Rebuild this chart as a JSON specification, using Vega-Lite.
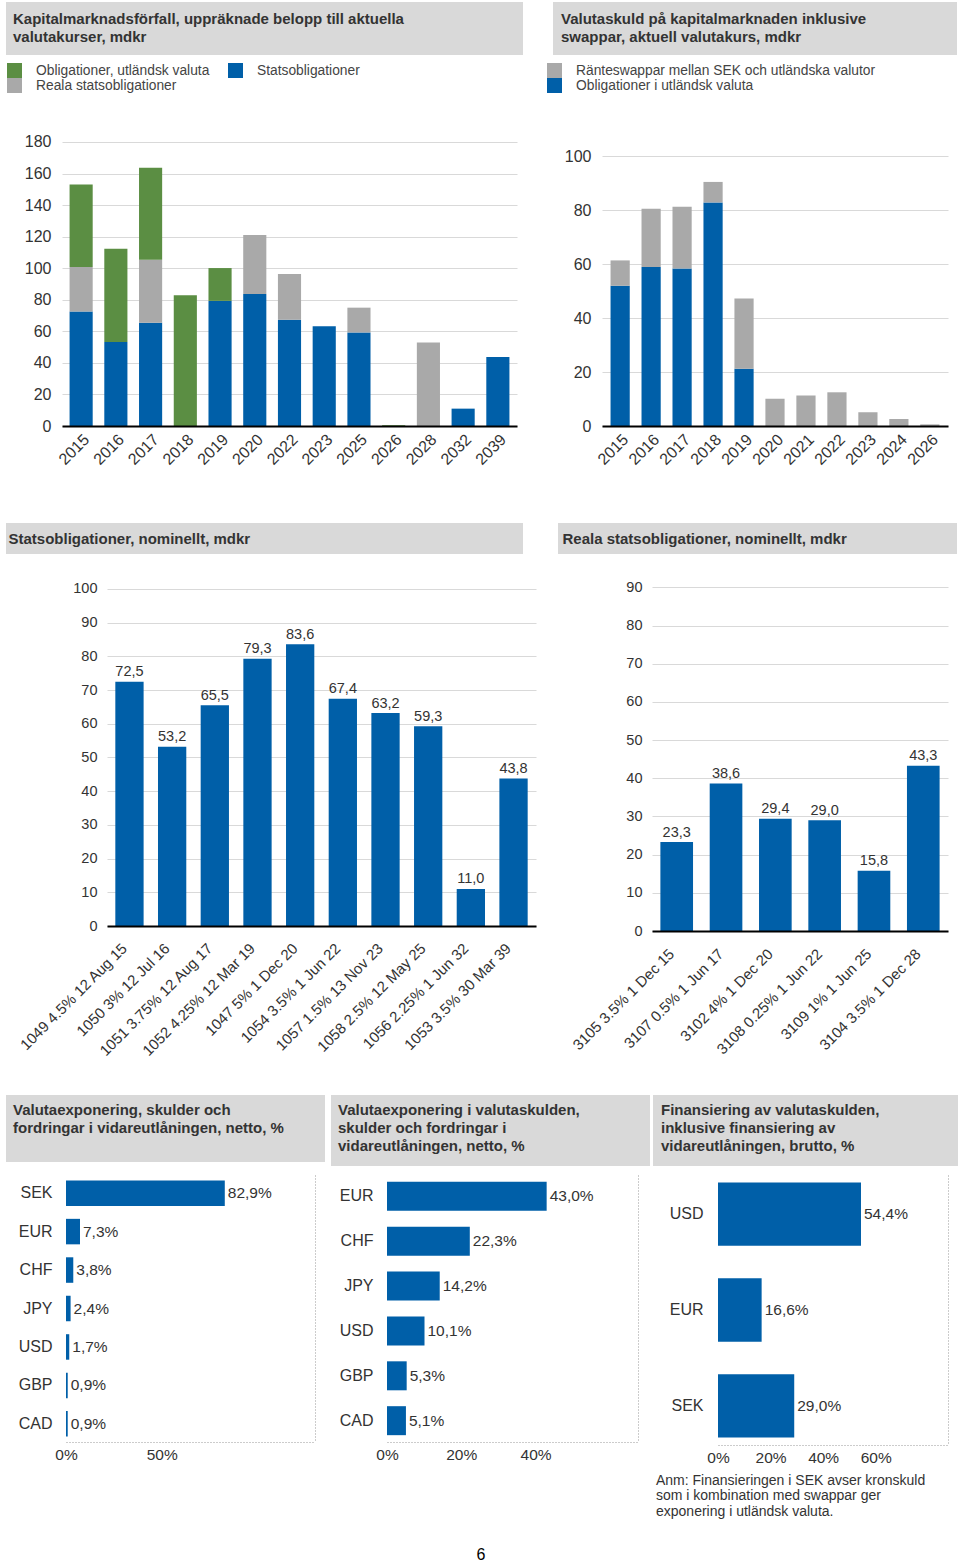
{
  "$schema": "https://vega.github.io/schema/vega-lite/v6.json",
  "padding": {"top": 2, "left": 0, "right": 0, "bottom": 0},
  "bounds": "full",
  "spacing": 0,
  "resolve": {"scale": {"color": "independent"}, "legend": {"color": "independent"}},
  "config": {
    "font": "Liberation Sans",
    "view": {"stroke": null},
    "locale": {"number": {"decimal": ",", "thousands": " ", "grouping": [3], "currency": ["", " kr"]}},
    "axis": {"labelColor": "#333333", "ticks": false, "domain": false, "labelFont": "Liberation Sans"},
    "legend": {"labelFont": "Liberation Sans"},
    "text": {"font": "Liberation Sans"}
  },
  "datasets": {
    "kap": [
      {"ar": "2015", "serie": "Statsobligationer", "v": 72.5},
      {"ar": "2015", "serie": "Reala statsobligationer", "v": 28.3},
      {"ar": "2015", "serie": "Obligationer, utländsk valuta", "v": 52.2},
      {"ar": "2016", "serie": "Statsobligationer", "v": 53.2},
      {"ar": "2016", "serie": "Obligationer, utländsk valuta", "v": 59.2},
      {"ar": "2017", "serie": "Statsobligationer", "v": 65.5},
      {"ar": "2017", "serie": "Reala statsobligationer", "v": 39.9},
      {"ar": "2017", "serie": "Obligationer, utländsk valuta", "v": 58.3},
      {"ar": "2018", "serie": "Obligationer, utländsk valuta", "v": 82.8},
      {"ar": "2019", "serie": "Statsobligationer", "v": 79.3},
      {"ar": "2019", "serie": "Obligationer, utländsk valuta", "v": 20.8},
      {"ar": "2020", "serie": "Statsobligationer", "v": 83.6},
      {"ar": "2020", "serie": "Reala statsobligationer", "v": 37.5},
      {"ar": "2022", "serie": "Statsobligationer", "v": 67.4},
      {"ar": "2022", "serie": "Reala statsobligationer", "v": 28.9},
      {"ar": "2023", "serie": "Statsobligationer", "v": 63.2},
      {"ar": "2025", "serie": "Statsobligationer", "v": 59.3},
      {"ar": "2025", "serie": "Reala statsobligationer", "v": 15.7},
      {"ar": "2026", "serie": "Obligationer, utländsk valuta", "v": 0.5},
      {"ar": "2028", "serie": "Reala statsobligationer", "v": 53.0},
      {"ar": "2032", "serie": "Statsobligationer", "v": 11.0},
      {"ar": "2039", "serie": "Statsobligationer", "v": 43.8}
    ],
    "swap": [
      {"ar": "2015", "serie": "Obligationer i utländsk valuta", "v": 52.0},
      {"ar": "2015", "serie": "Ränteswappar mellan SEK och utländska valutor", "v": 9.4},
      {"ar": "2016", "serie": "Obligationer i utländsk valuta", "v": 59.0},
      {"ar": "2016", "serie": "Ränteswappar mellan SEK och utländska valutor", "v": 21.6},
      {"ar": "2017", "serie": "Obligationer i utländsk valuta", "v": 58.4},
      {"ar": "2017", "serie": "Ränteswappar mellan SEK och utländska valutor", "v": 22.9},
      {"ar": "2018", "serie": "Obligationer i utländsk valuta", "v": 82.9},
      {"ar": "2018", "serie": "Ränteswappar mellan SEK och utländska valutor", "v": 7.6},
      {"ar": "2019", "serie": "Obligationer i utländsk valuta", "v": 21.2},
      {"ar": "2019", "serie": "Ränteswappar mellan SEK och utländska valutor", "v": 26.1},
      {"ar": "2020", "serie": "Ränteswappar mellan SEK och utländska valutor", "v": 10.1},
      {"ar": "2021", "serie": "Ränteswappar mellan SEK och utländska valutor", "v": 11.3},
      {"ar": "2022", "serie": "Ränteswappar mellan SEK och utländska valutor", "v": 12.5},
      {"ar": "2023", "serie": "Ränteswappar mellan SEK och utländska valutor", "v": 5.1},
      {"ar": "2024", "serie": "Ränteswappar mellan SEK och utländska valutor", "v": 2.6},
      {"ar": "2026", "serie": "Ränteswappar mellan SEK och utländska valutor", "v": 0.6}
    ],
    "nom": [
      {"lan": "1049 4.5% 12 Aug 15", "v": 72.5},
      {"lan": "1050 3% 12 Jul 16", "v": 53.2},
      {"lan": "1051 3.75% 12 Aug 17", "v": 65.5},
      {"lan": "1052 4.25% 12 Mar 19", "v": 79.3},
      {"lan": "1047 5% 1 Dec 20", "v": 83.6},
      {"lan": "1054  3.5% 1 Jun 22", "v": 67.4},
      {"lan": "1057 1.5% 13 Nov 23", "v": 63.2},
      {"lan": "1058 2.5% 12 May 25", "v": 59.3},
      {"lan": "1056 2.25% 1 Jun 32", "v": 11.0},
      {"lan": "1053 3.5% 30 Mar 39", "v": 43.8}
    ],
    "real": [
      {"lan": "3105 3.5% 1 Dec 15", "v": 23.3},
      {"lan": "3107 0.5% 1 Jun 17", "v": 38.6},
      {"lan": "3102 4% 1 Dec 20", "v": 29.4},
      {"lan": "3108 0.25% 1 Jun 22", "v": 29.0},
      {"lan": "3109 1% 1 Jun 25", "v": 15.8},
      {"lan": "3104 3.5% 1 Dec 28", "v": 43.3}
    ],
    "exp1": [
      {"valuta": "SEK", "andel": 0.829},
      {"valuta": "EUR", "andel": 0.073},
      {"valuta": "CHF", "andel": 0.038},
      {"valuta": "JPY", "andel": 0.024},
      {"valuta": "USD", "andel": 0.017},
      {"valuta": "GBP", "andel": 0.009},
      {"valuta": "CAD", "andel": 0.009}
    ],
    "exp2": [
      {"valuta": "EUR", "andel": 0.430},
      {"valuta": "CHF", "andel": 0.223},
      {"valuta": "JPY", "andel": 0.142},
      {"valuta": "USD", "andel": 0.101},
      {"valuta": "GBP", "andel": 0.053},
      {"valuta": "CAD", "andel": 0.051}
    ],
    "fin": [
      {"valuta": "USD", "andel": 0.544},
      {"valuta": "EUR", "andel": 0.166},
      {"valuta": "SEK", "andel": 0.290}
    ]
  },
  "vconcat": [
    {
      "spacing": 0, "bounds": "flush",
      "hconcat": [
        {"width": 6, "height": 61, "data": {"values": []}, "mark": {"type": "point", "opacity": 0}},
        {"width": 517, "height": 53, "data": {"values": []}, "mark": {"type": "point", "opacity": 0},
         "view": {"fill": "#d9d9d9", "stroke": null},
         "title": {"text": ["Kapitalmarknadsförfall, uppräknade belopp till aktuella", "valutakurser, mdkr"], "orient": "bottom", "anchor": "start", "frame": "group", "offset": -43, "dx": 7, "fontSize": 15, "fontWeight": "bold", "lineHeight": 17.5, "color": "#333333"}},
        {"width": 30, "height": 1, "data": {"values": []}, "mark": {"type": "point", "opacity": 0}},
        {"width": 404, "height": 53, "data": {"values": []}, "mark": {"type": "point", "opacity": 0},
         "view": {"fill": "#d9d9d9", "stroke": null},
         "title": {"text": ["Valutaskuld på kapitalmarknaden inklusive", "swappar, aktuell valutakurs, mdkr"], "orient": "bottom", "anchor": "start", "frame": "group", "offset": -43, "dx": 8, "fontSize": 15, "fontWeight": "bold", "lineHeight": 17.5, "color": "#333333"}}
      ]
    },
    {
      "spacing": 0, "bounds": "flush",
      "resolve": {"scale": {"color": "independent"}, "legend": {"color": "independent"}},
      "hconcat": [
        {"width": 62, "height": 460, "data": {"values": []}, "mark": {"type": "point", "opacity": 0}},
        {
          "width": 455, "height": 363,
          "data": {"name": "kap"},
          "mark": {"type": "bar"},
          "encoding": {
            "x": {"field": "ar", "type": "ordinal", "title": null,
              "scale": {"paddingInner": 0.334, "paddingOuter": 0.218},
              "axis": {"labelAngle": -45, "labelFontSize": 16, "labelPadding": 5, "domain": true, "domainColor": "#000000", "domainWidth": 2, "grid": false, "zindex": 1}},
            "y": {"field": "v", "type": "quantitative", "title": null, "stack": "zero",
              "scale": {"domain": [0, 230.07], "nice": false},
              "axis": {"values": [0, 20, 40, 60, 80, 100, 120, 140, 160, 180], "labelFontSize": 16, "labelPadding": 11, "grid": true, "gridColor": "#d9d9d9"}},
            "color": {"field": "serie", "type": "nominal",
              "scale": {"domain": ["Obligationer, utländsk valuta", "Reala statsobligationer", "Statsobligationer"], "range": ["#5b8e43", "#a9a9a9", "#005fa8"]},
              "legend": {"orient": "none", "legendX": -55, "legendY": 0, "direction": "vertical", "columns": 2, "title": null, "symbolType": "square", "symbolSize": 225, "symbolStrokeWidth": 0, "symbolOpacity": 1, "labelFontSize": 13.8, "labelColor": "#444444", "labelOffset": 14, "labelLimit": 400, "rowPadding": 0, "columnPadding": 18, "padding": 0}},
            "order": {"field": "serie", "sort": "descending"}
          }
        },
        {"width": 85, "height": 1, "data": {"values": []}, "mark": {"type": "point", "opacity": 0}},
        {
          "width": 346, "height": 363,
          "data": {"name": "swap"},
          "mark": {"type": "bar"},
          "encoding": {
            "x": {"field": "ar", "type": "ordinal", "title": null,
              "scale": {"paddingInner": 0.38, "paddingOuter": 0.276},
              "axis": {"labelAngle": -45, "labelFontSize": 16, "labelPadding": 5, "domain": true, "domainColor": "#000000", "domainWidth": 2, "grid": false, "zindex": 1}},
            "y": {"field": "v", "type": "quantitative", "title": null, "stack": "zero",
              "scale": {"domain": [0, 134.6], "nice": false},
              "axis": {"values": [0, 20, 40, 60, 80, 100], "labelFontSize": 16, "labelPadding": 11, "grid": true, "gridColor": "#d9d9d9"}},
            "color": {"field": "serie", "type": "nominal",
              "scale": {"domain": ["Ränteswappar mellan SEK och utländska valutor", "Obligationer i utländsk valuta"], "range": ["#a9a9a9", "#005fa8"]},
              "legend": {"orient": "none", "legendX": -55, "legendY": 0, "direction": "vertical", "columns": 1, "title": null, "symbolType": "square", "symbolSize": 225, "symbolStrokeWidth": 0, "symbolOpacity": 1, "labelFontSize": 13.8, "labelColor": "#444444", "labelOffset": 14, "labelLimit": 400, "rowPadding": 0, "padding": 0}},
            "order": {"field": "serie", "sort": "ascending"}
          }
        }
      ]
    },
    {
      "spacing": 0, "bounds": "flush",
      "hconcat": [
        {"width": 6, "height": 55, "data": {"values": []}, "mark": {"type": "point", "opacity": 0}},
        {"width": 517, "height": 31, "data": {"values": []}, "mark": {"type": "point", "opacity": 0},
         "view": {"fill": "#d9d9d9", "stroke": null},
         "title": {"text": "Statsobligationer, nominellt, mdkr", "orient": "bottom", "anchor": "start", "frame": "group", "offset": -22.5, "dx": 2.5, "fontSize": 15, "fontWeight": "bold", "color": "#333333"}},
        {"width": 35, "height": 1, "data": {"values": []}, "mark": {"type": "point", "opacity": 0}},
        {"width": 399, "height": 31, "data": {"values": []}, "mark": {"type": "point", "opacity": 0},
         "view": {"fill": "#d9d9d9", "stroke": null},
         "title": {"text": "Reala statsobligationer, nominellt, mdkr", "orient": "bottom", "anchor": "start", "frame": "group", "offset": -22.5, "dx": 4.5, "fontSize": 15, "fontWeight": "bold", "color": "#333333"}}
      ]
    },
    {
      "spacing": 0, "bounds": "flush",
      "hconcat": [
        {"width": 107, "height": 517, "data": {"values": []}, "mark": {"type": "point", "opacity": 0}},
        {
          "width": 429, "height": 348,
          "data": {"name": "nom"},
          "encoding": {
            "x": {"field": "lan", "type": "nominal", "sort": null, "title": null,
              "scale": {"paddingInner": 0.337, "paddingOuter": 0.195},
              "axis": {"labelAngle": -45, "labelFontSize": 15, "labelPadding": 14.5, "labelOffset": -10, "labelLimit": 300, "domain": true, "domainColor": "#000000", "domainWidth": 2, "grid": false, "zindex": 1}},
            "y": {"field": "v", "type": "quantitative", "title": null,
              "scale": {"domain": [0, 103.26], "nice": false},
              "axis": {"values": [0, 10, 20, 30, 40, 50, 60, 70, 80, 90, 100], "labelFontSize": 14.5, "labelPadding": 10, "grid": true, "gridColor": "#d9d9d9"}}
          },
          "layer": [
            {"mark": {"type": "bar", "color": "#005fa8"}},
            {"mark": {"type": "text", "baseline": "alphabetic", "dy": -5.5, "fontSize": 14.5, "color": "#333333"},
             "encoding": {"text": {"field": "v", "type": "quantitative", "format": ".1f"}}}
          ]
        },
        {"width": 116, "height": 1, "data": {"values": []}, "mark": {"type": "point", "opacity": 0}},
        {
          "width": 296, "height": 353,
          "data": {"name": "real"},
          "encoding": {
            "x": {"field": "lan", "type": "nominal", "sort": null, "title": null,
              "scale": {"paddingInner": 0.338, "paddingOuter": 0.17},
              "axis": {"labelAngle": -45, "labelFontSize": 15, "labelPadding": 15, "labelOffset": -10, "labelLimit": 300, "domain": true, "domainColor": "#000000", "domainWidth": 2, "grid": false, "zindex": 1}},
            "y": {"field": "v", "type": "quantitative", "title": null,
              "scale": {"domain": [0, 92.44], "nice": false},
              "axis": {"values": [0, 10, 20, 30, 40, 50, 60, 70, 80, 90], "labelFontSize": 14.5, "labelPadding": 10, "grid": true, "gridColor": "#d9d9d9"}}
          },
          "layer": [
            {"mark": {"type": "bar", "color": "#005fa8"}},
            {"mark": {"type": "text", "baseline": "alphabetic", "dy": -5.5, "fontSize": 14.5, "color": "#333333"},
             "encoding": {"text": {"field": "v", "type": "quantitative", "format": ".1f"}}}
          ]
        }
      ]
    },
    {
      "spacing": 0, "bounds": "flush",
      "hconcat": [
        {"width": 6, "height": 80, "data": {"values": []}, "mark": {"type": "point", "opacity": 0}},
        {"width": 319, "height": 67, "data": {"values": []}, "mark": {"type": "point", "opacity": 0},
         "view": {"fill": "#d9d9d9", "stroke": null},
         "title": {"text": ["Valutaexponering, skulder och", "fordringar i vidareutlåningen, netto, %"], "orient": "bottom", "anchor": "start", "frame": "group", "offset": -59, "dx": 7, "fontSize": 15, "fontWeight": "bold", "lineHeight": 18, "color": "#333333"}},
        {"width": 6, "height": 1, "data": {"values": []}, "mark": {"type": "point", "opacity": 0}},
        {"width": 319, "height": 71, "data": {"values": []}, "mark": {"type": "point", "opacity": 0},
         "view": {"fill": "#d9d9d9", "stroke": null},
         "title": {"text": ["Valutaexponering i valutaskulden,", "skulder och fordringar i", "vidareutlåningen, netto, %"], "orient": "bottom", "anchor": "start", "frame": "group", "offset": -63, "dx": 7, "fontSize": 15, "fontWeight": "bold", "lineHeight": 18, "color": "#333333"}},
        {"width": 3, "height": 1, "data": {"values": []}, "mark": {"type": "point", "opacity": 0}},
        {"width": 305, "height": 71, "data": {"values": []}, "mark": {"type": "point", "opacity": 0},
         "view": {"fill": "#d9d9d9", "stroke": null},
         "title": {"text": ["Finansiering av valutaskulden,", "inklusive finansiering av", "vidareutlåningen, brutto, %"], "orient": "bottom", "anchor": "start", "frame": "group", "offset": -63, "dx": 8, "fontSize": 15, "fontWeight": "bold", "lineHeight": 18, "color": "#333333"}}
      ]
    },
    {
      "spacing": 0, "bounds": "flush",
      "hconcat": [
        {"width": 66, "height": 369, "data": {"values": []}, "mark": {"type": "point", "opacity": 0}},
        {
          "width": 249, "height": 267,
          "data": {"name": "exp1"},
          "encoding": {
            "x": {"field": "andel", "type": "quantitative", "title": null,
              "scale": {"domain": [0, 1.3], "nice": false},
              "axis": {"values": [0, 0.5], "format": ".0%", "labelFlush": false, "labelFontSize": 15.5, "labelPadding": 5, "domain": true, "domainColor": "#999999", "domainDash": [1, 2], "grid": false}}
          },
          "layer": [
            {"mark": {"type": "bar", "color": "#005fa8"},
             "encoding": {"y": {"field": "valuta", "type": "nominal", "sort": null, "title": null,
               "scale": {"paddingInner": 0.337, "paddingOuter": 0.14},
               "axis": {"orient": "left", "labelFontSize": 16, "labelPadding": 14, "grid": false}}}},
            {"mark": {"type": "text", "align": "left", "baseline": "middle", "dx": 3, "fontSize": 15.5, "color": "#333333"},
             "encoding": {
               "y": {"field": "valuta", "type": "nominal", "sort": null, "title": null,
                 "scale": {"paddingInner": 0.337, "paddingOuter": 0.14},
                 "axis": {"orient": "right", "labels": false, "grid": false, "domain": true, "domainColor": "#999999", "domainDash": [1, 2]}},
               "text": {"field": "andel", "type": "quantitative", "format": ".1%"}}}
          ],
          "resolve": {"axis": {"y": "independent"}}
        },
        {"width": 72, "height": 1, "data": {"values": []}, "mark": {"type": "point", "opacity": 0}},
        {
          "width": 251, "height": 267,
          "data": {"name": "exp2"},
          "encoding": {
            "x": {"field": "andel", "type": "quantitative", "title": null,
              "scale": {"domain": [0, 0.676], "nice": false},
              "axis": {"values": [0, 0.2, 0.4], "format": ".0%", "labelFlush": false, "labelFontSize": 15.5, "labelPadding": 5, "domain": true, "domainColor": "#999999", "domainDash": [1, 2], "grid": false}}
          },
          "layer": [
            {"mark": {"type": "bar", "color": "#005fa8"},
             "encoding": {"y": {"field": "valuta", "type": "nominal", "sort": null, "title": null,
               "scale": {"paddingInner": 0.354, "paddingOuter": 0.152},
               "axis": {"orient": "left", "labelFontSize": 16, "labelPadding": 14, "grid": false}}}},
            {"mark": {"type": "text", "align": "left", "baseline": "middle", "dx": 3, "fontSize": 15.5, "color": "#333333"},
             "encoding": {
               "y": {"field": "valuta", "type": "nominal", "sort": null, "title": null,
                 "scale": {"paddingInner": 0.354, "paddingOuter": 0.152},
                 "axis": {"orient": "right", "labels": false, "grid": false, "domain": true, "domainColor": "#999999", "domainDash": [1, 2]}},
               "text": {"field": "andel", "type": "quantitative", "format": ".1%"}}}
          ],
          "resolve": {"axis": {"y": "independent"}}
        },
        {"width": 80, "height": 1, "data": {"values": []}, "mark": {"type": "point", "opacity": 0}},
        {
          "width": 230, "height": 270,
          "data": {"name": "fin"},
          "title": {"text": ["Anm: Finansieringen i SEK avser kronskuld", "som i kombination med swappar ger", "exponering i utländsk valuta."], "orient": "bottom", "anchor": "start", "frame": "group", "dx": -62, "offset": 8, "fontSize": 14, "fontWeight": "normal", "lineHeight": 15.5, "color": "#333333"},
          "encoding": {
            "x": {"field": "andel", "type": "quantitative", "title": null,
              "scale": {"domain": [0, 0.875], "nice": false},
              "axis": {"values": [0, 0.2, 0.4, 0.6], "format": ".0%", "labelFlush": false, "labelFontSize": 15.5, "labelPadding": 5, "domain": true, "domainColor": "#999999", "domainDash": [1, 2], "grid": false}}
          },
          "layer": [
            {"mark": {"type": "bar", "color": "#005fa8"},
             "encoding": {"y": {"field": "valuta", "type": "nominal", "sort": null, "title": null,
               "scale": {"paddingInner": 0.339, "paddingOuter": 0.0785},
               "axis": {"orient": "left", "labelFontSize": 16, "labelPadding": 15, "grid": false}}}},
            {"mark": {"type": "text", "align": "left", "baseline": "middle", "dx": 3, "fontSize": 15.5, "color": "#333333"},
             "encoding": {
               "y": {"field": "valuta", "type": "nominal", "sort": null, "title": null,
                 "scale": {"paddingInner": 0.339, "paddingOuter": 0.0785},
                 "axis": {"orient": "right", "labels": false, "grid": false, "domain": true, "domainColor": "#999999", "domainDash": [1, 2]}},
               "text": {"field": "andel", "type": "quantitative", "format": ".1%"}}}
          ],
          "resolve": {"axis": {"y": "independent"}}
        }
      ]
    },
    {
      "spacing": 0, "bounds": "flush",
      "hconcat": [
        {"width": 431, "height": 1, "data": {"values": []}, "mark": {"type": "point", "opacity": 0}},
        {"width": 100, "height": 1, "data": {"values": []}, "mark": {"type": "point", "opacity": 0},
         "title": {"text": "6", "orient": "bottom", "anchor": "middle", "frame": "group", "offset": 2, "fontSize": 16, "fontWeight": "normal", "color": "#000000"}}
      ]
    }
  ]
}
